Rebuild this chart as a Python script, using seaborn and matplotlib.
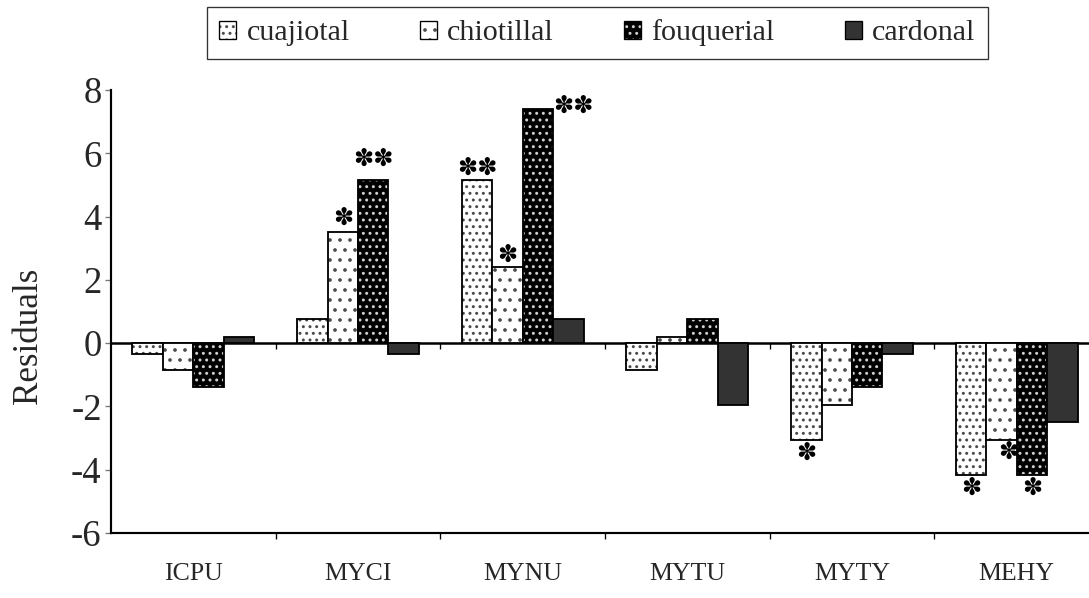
import matplotlib
matplotlib.use("Agg")
import matplotlib.pyplot as plt
import matplotlib.colors as mcolors
import seaborn as sns
import pandas as pd

# ---------------- data ----------------
categories = ["ICPU", "MYCI", "MYNU", "MYTU", "MYTY", "MEHY"]
series_names = ["cuajiotal", "chiotillal", "fouquerial", "cardonal"]
cuajiotal = [-0.35, 0.76, 5.17, -0.85, -3.06, -4.17]
chiotillal = [-0.85, 3.5, 2.4, 0.2, -1.95, -3.06]
fouquerial = [-1.4, 5.17, 7.4, 0.76, -1.4, -4.17]
cardonal = [0.2, -0.35, 0.76, -1.95, -0.35, -2.5]
sig_cuajiotal = ["", "", "**", "", "*", "*"]
sig_chiotillal = ["", "*", "*", "", "", "*"]
sig_fouquerial = ["", "**", "**", "", "", "*"]
sig_cardonal = ["", "", "", "", "", ""]
ytick_values = [-6, -4, -2, 0, 2, 4, 6, 8]
ytick_labels = ["-6", "-4", "-2", "0", "2", "4", "6", "8"]

values = [cuajiotal, chiotillal, fouquerial, cardonal]
sigs = [sig_cuajiotal, sig_chiotillal, sig_fouquerial, sig_cardonal]

rows = []
for s, vals in zip(series_names, values):
    for c, v in zip(categories, vals):
        rows.append({"site": c, "series": s, "value": v})
df = pd.DataFrame(rows)

# ---------------- style ----------------
sns.set_theme(style="white")
plt.rcParams['font.family'] = ['Liberation Serif', 'DejaVu Sans']
plt.rcParams['hatch.linewidth'] = 1.0

styles = {
    "cuajiotal": dict(fc="white", hc="#4a4a4a", hatch="..."),
    "chiotillal": dict(fc="white", hc="#4a4a4a", hatch=".."),
    "fouquerial": dict(fc="black", hc="#d0d0d0", hatch="..."),
    "cardonal": dict(fc="#333333", hc="black", hatch=None),
}

DPI = 120
fig = plt.figure(figsize=(1089 / DPI, 598 / DPI), dpi=DPI)
ax = fig.add_axes([111 / 1089, 65 / 598, 988 / 1089, 443 / 598])

sns.barplot(data=df, x="site", y="value", hue="series", order=categories,
            hue_order=series_names, width=0.74, gap=0, ax=ax, legend=False,
            errorbar=None, saturation=1,
            palette={s: styles[s]["fc"] for s in series_names})

ax.axhline(0, color="black", lw=1.5, zorder=1)


def style_patch(p, st, lw=1.1):
    p.set_facecolor(st["fc"])
    p.set_edgecolor("black")
    p.set_linewidth(lw)
    if st["hatch"]:
        p.set_hatch(st["hatch"])
        p._hatch_color = mcolors.to_rgba(st["hc"])


for name, cont in zip(series_names, ax.containers):
    for p in cont.patches:
        style_patch(p, styles[name])
        p.set_zorder(2)

# significance marks
special = {("MYCI", "fouquerial"): (0, 21), ("MYCI", "chiotillal"): (0, 15),
           ("MYNU", "fouquerial"): (35, 3), ("MEHY", "chiotillal"): (7, -12)}
for name, cont, sg, vals in zip(series_names, ax.containers, sigs, values):
    for p, c, lab, val in zip(cont.patches, categories, sg, vals):
        if not lab:
            continue
        xc = p.get_x() + p.get_width() / 2
        top = max(p.get_y(), p.get_y() + p.get_height())
        bot = min(p.get_y(), p.get_y() + p.get_height())
        yend = top if val >= 0 else bot
        dx, dy = special.get((c, name), (0, 12 if val >= 0 else -13))
        txt = "\u273D" * len(lab)
        ax.annotate(txt, xy=(xc, yend), xytext=(dx, dy), textcoords="offset pixels",
                    ha="center", va="center", fontsize=14.5, family="DejaVu Sans",
                    color="black", zorder=5)

# axes
ax.set_xlim(-0.5, 5.5)
ax.set_ylim(-6, 8)
ax.set_yticks(ytick_values)
ax.set_yticklabels(ytick_labels, fontsize=22)
ax.set_xticks(range(len(categories)))
ax.set_xticklabels(categories, fontsize=15.5)
ax.set_xticks([i + 0.5 for i in range(len(categories) - 1)], minor=True)
ax.tick_params(axis="x", which="major", length=0, pad=18)
ax.tick_params(axis="x", which="minor", length=3.6, width=0.8, color="black", direction="out", bottom=True)
ax.tick_params(axis="y", which="major", length=3.6, width=0.8, color="#777777", direction="out", left=True, pad=2)
ax.vlines([i + 0.5 for i in range(len(categories) - 1)], 0, -0.19, color="black", lw=0.8, zorder=1)

for sp in ["top", "right"]:
    ax.spines[sp].set_visible(False)
for sp in ["left", "bottom"]:
    ax.spines[sp].set_color("black")
    ax.spines[sp].set_linewidth(1.3)

ax.set_xlabel("")
ax.set_ylabel("Residuals", fontsize=21)
ax.yaxis.set_label_coords(-0.067, 0.445)

handles = list(ax.containers)
leg = ax.legend(handles, series_names, loc="center", bbox_to_anchor=(0.5487, 0.9448),
                bbox_transform=fig.transFigure, ncol=4, frameon=True, fancybox=False,
                edgecolor="black", fontsize=18, handlelength=0.55, handleheight=0.55,
                handletextpad=0.35, columnspacing=2.35, borderpad=0.42, borderaxespad=0)
leg.get_frame().set_linewidth(0.8)
leg.get_frame().set_facecolor("white")
for h in leg.legend_handles:
    h.set_linewidth(0.8)

fig.savefig("out.png", dpi=DPI)
